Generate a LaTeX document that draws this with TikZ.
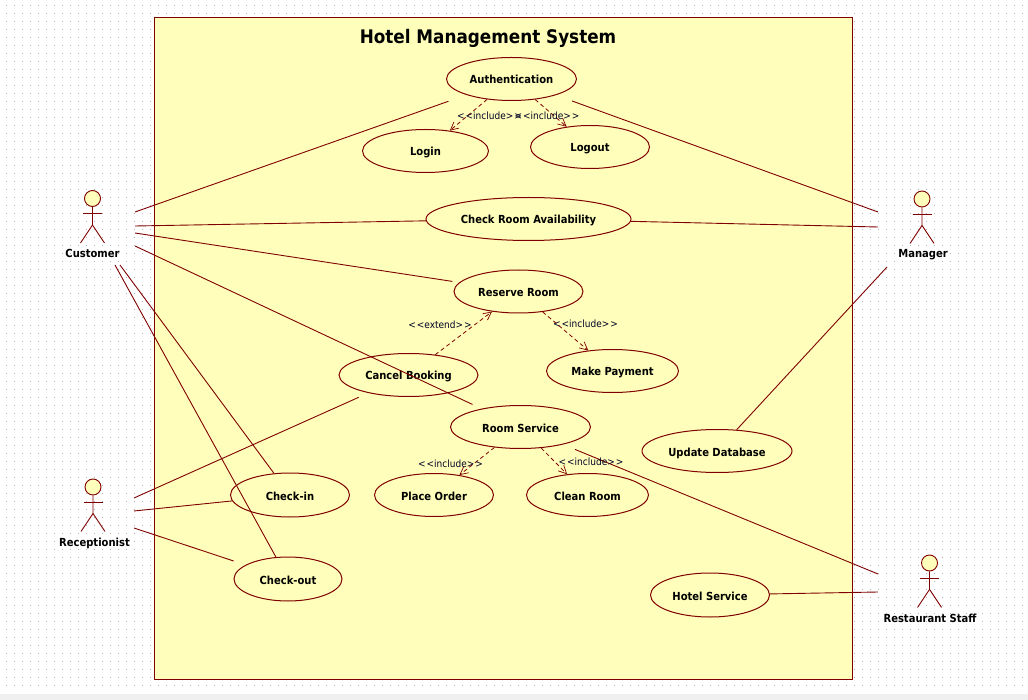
\documentclass[tikz,border=0pt]{standalone}
\usepackage{fontspec}
\setmainfont{DejaVu Sans Condensed}
\usetikzlibrary{shapes.geometric,arrows.meta}
\definecolor{umlline}{RGB}{128,0,0}
\definecolor{umlfill}{RGB}{255,255,187}
\newcommand{\stereo}[1]{<\kern1pt<#1>\kern1pt>}
\tikzset{
  x=1pt,y=-1pt,
  usecase/.style={ellipse,draw=umlline,fill=umlfill,line width=1pt,inner sep=0pt,text height=10pt,text depth=0pt,font=\fontsize{11.1}{13}\selectfont\bfseries,text=black},
  assoc/.style={draw=umlline,line width=0.9pt},
  dep/.style={draw=umlline,line width=0.8pt,dash pattern=on 4pt off 3pt,-{Straight Barb[length=8pt,width=8pt,line width=0.7pt]}},
  stereolabel/.style={inner sep=0pt,text height=8pt,text depth=0pt,font=\fontsize{10}{12}\selectfont,text=black!85!blue},
  actorlabel/.style={inner sep=0pt,text height=8pt,text depth=0pt,font=\fontsize{11.1}{13}\selectfont\bfseries,text=black},
  actorline/.style={draw=umlline,line width=0.9pt},
}
\newcommand{\actor}[3]{%
  \node[circle,draw=umlline,fill=umlfill,line width=0.9pt,minimum size=16pt,inner sep=0pt] (#3) at (#1,#2) {};
  \draw[actorline] (#3.south) -- ++(0,18) coordinate (#3hip) -- ++(-12,18);
  \draw[actorline] (#3hip) -- ++(12,18);
  \draw[actorline] ([xshift=-9.5pt,yshift=-7pt]#3.south) -- ++(19,0);
}
\begin{document}
\begin{tikzpicture}
\useasboundingbox (0,0) rectangle (1028,700);
\fill[white] (0,0) rectangle (1028,700);
\foreach \r in {0,...,85}{
  \draw[black!30,line width=1pt,dash pattern=on 1pt off 7pt] (6,{5.5+8*\r}) -- (1028,{5.5+8*\r});
}
\fill[black!6] (0,693.5) rectangle (1028,700);
\node[rectangle,draw=umlline,fill=umlfill,line width=1pt,minimum width=698pt,minimum height=662pt,inner sep=0pt] (system) at (503.5,348.5) {};
\node[inner sep=0pt,text height=14pt,text depth=0pt,font=\fontsize{18.7}{22}\selectfont\bfseries,text=black] (title) at (488,37) {Hotel Management System};

% use cases
\node[usecase,minimum width=130pt,minimum height=43pt] (auth) at (511.5,79) {Authentication};
\node[usecase,minimum width=126pt,minimum height=43pt] (login) at (425.5,151) {Login};
\node[usecase,minimum width=119pt,minimum height=43pt] (logout) at (590,147) {Logout};
\node[usecase,minimum width=205pt,minimum height=43pt] (check) at (528.5,219) {Check Room Availability};
\node[usecase,minimum width=129pt,minimum height=43pt] (reserve) at (518.5,291.5) {Reserve Room};
\node[usecase,minimum width=139pt,minimum height=43pt] (cancel) at (408.5,375) {Cancel Booking};
\node[usecase,minimum width=132pt,minimum height=43pt] (payment) at (612.5,371) {Make Payment};
\node[usecase,minimum width=140pt,minimum height=43pt] (room) at (520.5,427) {Room Service};
\node[usecase,minimum width=119pt,minimum height=43pt] (place) at (434,495) {Place Order};
\node[usecase,minimum width=122pt,minimum height=43pt] (clean) at (587.5,495) {Clean Room};
\node[usecase,minimum width=150pt,minimum height=43pt] (update) at (717,451) {Update Database};
\node[usecase,minimum width=119pt,minimum height=44pt] (checkin) at (290,495) {Check-in};
\node[usecase,minimum width=108pt,minimum height=44pt] (checkout) at (288,579) {Check-out};
\node[usecase,minimum width=119pt,minimum height=44pt] (hotel) at (710,595) {Hotel Service};

% actors
\actor{92.5}{198.5}{customer}
\actor{93}{487}{receptionist}
\actor{922}{199}{manager}
\actor{929.5}{563}{staff}
\node[actorlabel] (customerl) at (92.5,254) {Customer};
\node[actorlabel] (receptionistl) at (94.5,542) {Receptionist};
\node[actorlabel] (managerl) at (923,254) {Manager};
\node[actorlabel] (staffl) at (930,618) {Restaurant Staff};

% free ends of the connectors next to the actors
\coordinate (c1) at (135,212);
\coordinate (c2) at (135,226);
\coordinate (c3) at (135,233);
\coordinate (c4) at (135,246);
\coordinate (c5) at (120,265);
\coordinate (c6) at (115,265);
\coordinate (r1) at (134,498);
\coordinate (r2) at (134,511);
\coordinate (r3) at (134,528);
\coordinate (m1) at (878,212);
\coordinate (m2) at (878,227);
\coordinate (m3) at (887,267);
\coordinate (s1) at (878,574);
\coordinate (s2) at (878,592);

\draw[assoc,shorten >=19pt] (c1) -- (auth);
\draw[assoc] (c2) -- (check);
\draw[assoc,shorten >=7pt] (c3) -- (reserve);
\draw[assoc,shorten >=10pt] (c4) -- (room);
\draw[assoc] (c5) -- (checkin);
\draw[assoc] (c6) -- (checkout);
\draw[assoc,shorten >=10.5pt] (r1) -- (cancel);
\draw[assoc] (r2) -- (checkin);
\draw[assoc,shorten >=12.5pt] (r3) -- (checkout);
\draw[assoc,shorten >=17pt] (m1) -- (auth);
\draw[assoc] (m2) -- (check);
\draw[assoc] (m3) -- (update);
\draw[assoc,shorten >=13pt] (s1) -- (room);
\draw[assoc] (s2) -- (hotel);

\draw[dep] (auth) -- (login);
\draw[dep] (auth) -- (logout);
\draw[dep] (cancel) -- (reserve);
\draw[dep] (reserve) -- (payment);
\draw[dep] (room) -- (place);
\draw[dep] (room) -- (clean);

\node[stereolabel] (l1) at (489.5,116) {\stereo{include}};
\node[stereolabel] (l2) at (547,116) {\stereo{include}};
\node[stereolabel] (l3) at (440,325) {\stereo{extend}};
\node[stereolabel] (l4) at (585.5,324) {\stereo{include}};
\node[stereolabel] (l5) at (450.5,463) {\stereo{include}};
\node[stereolabel] (l6) at (591,461) {\stereo{include}};
\end{tikzpicture}
\end{document}
